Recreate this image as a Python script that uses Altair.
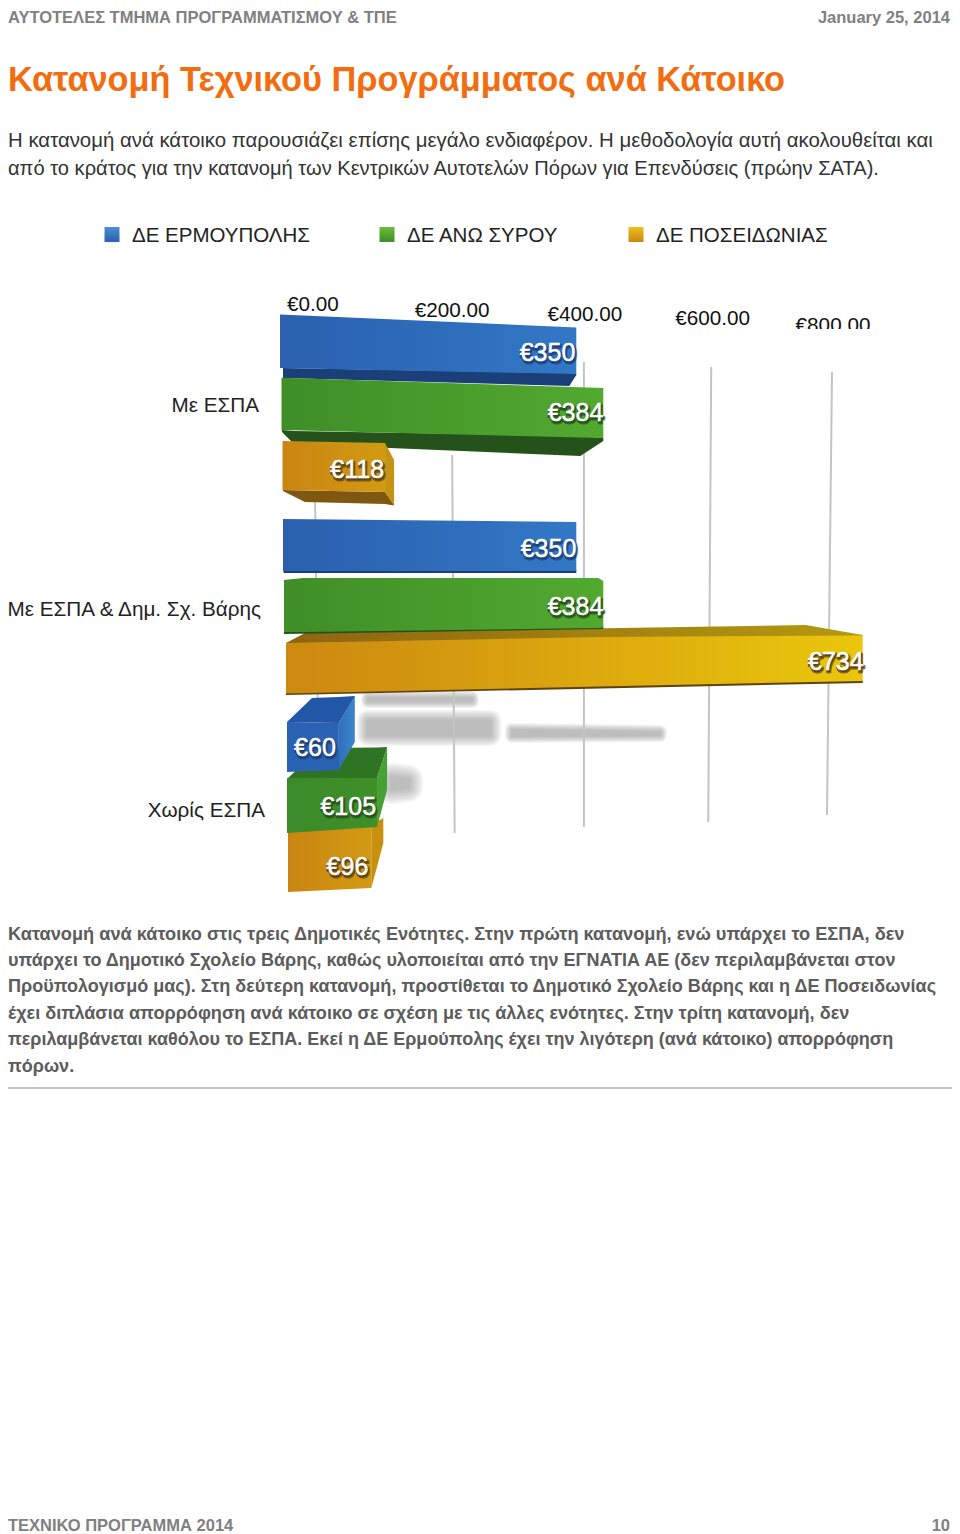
import altair as alt
import pandas as pd

# ---------- chart data ----------
SERIES = ["ΔΕ ΕΡΜΟΥΠΟΛΗΣ", "ΔΕ ΑΝΩ ΣΥΡΟΥ", "ΔΕ ΠΟΣΕΙΔΩΝΙΑΣ"]
ROW_LABELS = ["Με ΕΣΠΑ", "Με ΕΣΠΑ & Δημ. Σχ. Βάρης", "Χωρίς ΕΣΠΑ"]
VALUES_ESPA = [350, 384, 118]
VALUES_DHM = [350, 384, 734]
VALUES_NONE = [60, 105, 96]
TICKS = [0, 200, 400, 600, 800]
TICK_LABELS = ["€0.00", "€200.00", "€400.00", "€600.00", "€800.00"]

# ---------- page text ----------
HEADER_LEFT = "ΑΥΤΟΤΕΛΕΣ ΤΜΗΜΑ ΠΡΟΓΡΑΜΜΑΤΙΣΜΟΥ & ΤΠΕ"
HEADER_RIGHT = "January 25, 2014"
TITLE = "Κατανομή Τεχνικού Προγράμματος ανά Κάτοικο"
INTRO = [
    "Η κατανομή ανά κάτοικο παρουσιάζει επίσης μεγάλο ενδιαφέρον. Η μεθοδολογία αυτή ακολουθείται και",
    "από το κράτος για την κατανομή των Κεντρικών Αυτοτελών Πόρων για Επενδύσεις (πρώην ΣΑΤΑ).",
]
NOTES = [
    "Κατανομή ανά κάτοικο στις τρεις Δημοτικές Ενότητες. Στην πρώτη κατανομή, ενώ υπάρχει το ΕΣΠΑ, δεν",
    "υπάρχει το Δημοτικό Σχολείο Βάρης, καθώς υλοποιείται από την ΕΓΝΑΤΙΑ ΑΕ (δεν περιλαμβάνεται στον",
    "Προϋπολογισμό μας). Στη δεύτερη κατανομή, προστίθεται το Δημοτικό Σχολείο Βάρης και η ΔΕ Ποσειδωνίας",
    "έχει διπλάσια απορρόφηση ανά κάτοικο σε σχέση με τις άλλες ενότητες. Στην τρίτη κατανομή, δεν",
    "περιλαμβάνεται καθόλου το ΕΣΠΑ. Εκεί η ΔΕ Ερμούπολης έχει την λιγότερη (ανά κάτοικο) απορρόφηση",
    "πόρων.",
]
FOOTER_LEFT = "ΤΕΧΝΙΚΟ ΠΡΟΓΡΑΜΜΑ 2014"
FOOTER_RIGHT = "10"

FONT = "Liberation Sans"
W, H = 944, 1526
M = 8  # page margin: layout numbers below are page pixels, minus this margin


# ---------- scales: the perspective of the original is a power scale ----------
BAR_P, BAR_R = 0.913, [283 - M, 909 - M]
GRID_P, GRID_R = 0.94, [316 - M, 830 - M]
bar_scale = alt.Scale(type="pow", exponent=BAR_P, domain=[0, 800], range=BAR_R, nice=False)
grid_scale = alt.Scale(type="pow", exponent=GRID_P, domain=[0, 800], range=GRID_R, nice=False)


def shift(value, dx, p, r):
    """Data value that lands dx pixels beside `value` on a power scale."""
    k = (r[1] - r[0]) / 800 ** p
    pos = k * value ** p + dx
    return (abs(pos) / k) ** (1 / p) * (1 if pos >= 0 else -1)


def grad(c1, c2, vertical=False):
    return alt.LinearGradient(
        gradient="linear",
        stops=[alt.GradientStop(offset=0, color=c1), alt.GradientStop(offset=1, color=c2)],
        x1=0, y1=0, x2=0 if vertical else 1, y2=1 if vertical else 0,
    )


BLUE = ("#2a60ae", "#3278c6")
BLUE_D = "#1b4079"
GREEN = ("#3f8e28", "#52a92f")
GREEN_D = "#25511a"
ORANGE = ("#c98512", "#d29a12")
ORANGE_D = "#7f5710"
GOLD = ("#cc8810", "#eac60c")

PX = alt.X("x:Q", scale=None, axis=None)
PY = alt.Y("y:Q", scale=None, axis=None)


def face(value, fill, pts):
    rows = []
    for anchor, dx, y0, y1 in pts:
        base = 0 if anchor == "L" else value
        rows.append({"v": shift(base, dx, BAR_P, BAR_R), "y0": y0 - M, "y1": y1 - M})
    return (
        alt.Chart(pd.DataFrame(rows))
        .mark_area(fill=fill, orient="vertical", line=False, interpolate="linear")
        .encode(
            x=alt.X("v:Q", scale=bar_scale, axis=None),
            y=alt.Y("y0:Q", scale=None, axis=None),
            y2="y1:Q",
        )
    )


v = VALUES_ESPA
d = VALUES_DHM
n = VALUES_NONE
bars = [
    # Με ΕΣΠΑ
    face(v[0], BLUE_D, [("L", 0, 368, 378), ("R", -8, 373, 386), ("R", -1, 374, 375)]),
    face(v[0], grad(*BLUE), [("L", -3, 314.5, 368), ("R", -1, 327.5, 374)]),
    face(v[1], GREEN_D, [("L", -1, 430, 432), ("L", 11, 431, 444), ("R", -23, 436, 456), ("R", 0, 438, 441)]),
    face(v[1], grad(*GREEN), [("L", -1.5, 377.7, 430), ("R", 0, 388, 438)]),
    face(v[2], ORANGE_D, [("L", 0, 490, 491), ("L", 22, 490.5, 502), ("R", -7, 492, 504), ("R", 2, 505, 505.5)]),
    face(v[2], "#c49214", [("R", -7, 443, 492), ("R", 2, 460, 505)]),
    face(v[2], grad(*ORANGE), [("L", -0.5, 441, 490), ("R", -7, 443, 492)]),
    # Με ΕΣΠΑ & Δημ. Σχ. Βάρης
    face(d[0], BLUE_D, [("L", 0.5, 570, 573), ("R", -1, 570, 573)]),
    face(d[0], grad(*BLUE), [("L", 0, 519, 571), ("R", -1, 522, 571)]),
    face(d[2], grad("#8f6410", "#b39a10"), [("L", 3, 643, 644), ("L", 22, 633, 643), ("R", -56, 625, 637), ("R", 1, 635, 636)]),
    face(d[2], "#5f4210", [("L", 3, 692, 695), ("R", 1, 680, 683)]),
    face(d[2], grad(*GOLD), [("L", 3, 643, 693.5), ("R", -263, 637, 686.5), ("R", 1, 635.5, 681)]),
    face(d[1], GREEN_D, [("L", 1, 631, 634), ("R", 0, 626, 629)]),
    face(d[1], grad(*GREEN), [("L", 1, 580, 632), ("L", 20, 578, 632), ("R", -5, 578, 628), ("R", 0, 581, 627.5)]),
    # Χωρίς ΕΣΠΑ
    face(n[2], grad(*ORANGE), [("L", 5, 825, 892), ("R", -2, 825, 888)]),
    face(n[2], "#c9900e", [("R", -2, 825, 888), ("R", 10, 818, 843)]),
    face(n[1], "#2e7423", [("L", 5, 778, 778.5), ("L", 37, 748, 779), ("R", -4, 747.5, 778), ("R", 6, 747, 747.5)]),
    face(n[1], "#46a035", [("R", -4, 778, 827), ("R", 6, 747, 790)]),
    face(n[1], grad("#3a8a2a", "#3f9028"), [("L", 4, 778, 833), ("R", -4, 778, 827)]),
    face(n[0], "#2257a8", [("L", 4, 722, 722.5), ("L", 29, 698, 722.5), ("R", -3, 697, 723), ("R", 13, 696, 696.5)]),
    face(n[0], grad("#2f6fb8", "#3c85cf"), [("R", -3, 723, 770), ("R", 13, 696, 742)]),
    face(n[0], "#2a63b4", [("L", 4, 722, 772), ("R", -3, 723, 770)]),
]

# ---------- value labels on the bars ----------
label_rows = []
for vals, ys, dxs, darks in [
    (VALUES_ESPA, [353, 413, 470], [-2, 0, -8], [BLUE_D, GREEN_D, "#5f4210"]),
    (VALUES_DHM, [549, 607, 662], [-1, 0, 2], [BLUE_D, GREEN_D, "#5f4210"]),
    (VALUES_NONE, [748, 807, 867], [-6, -5, -5], [BLUE_D, GREEN_D, "#5f4210"]),
]:
    for val, y, dx, dark in zip(vals, ys, dxs, darks):
        label_rows.append({"v": shift(val, dx, BAR_P, BAR_R), "y": y - M, "t": f"€{val}", "dark": dark})
labels_df = pd.DataFrame(label_rows)
enc = dict(x=alt.X("v:Q", scale=bar_scale, axis=None), y=PY, text="t:N")
label_shadow = (
    alt.Chart(labels_df)
    .mark_text(font=FONT, fontSize=25, align="right", baseline="middle", dx=1, dy=1.5,
               strokeWidth=3, strokeOpacity=0.75, strokeJoin="round")
    .encode(stroke=alt.Stroke("dark:N", scale=None), fill=alt.Fill("dark:N", scale=None), **enc)
)
label_top = (
    alt.Chart(labels_df)
    .mark_text(font=FONT, fontSize=25, align="right", baseline="middle", fill="white",
               stroke="white", strokeWidth=0.5)
    .encode(**enc)
)

# ---------- leaning grid lines and perspective tick labels ----------
GRID_EXT = [(-1, 495, 2, 722), (-3.5, 455, -1, 833), (0, 362, 0, 827), (3, 367, 0, 822), (2, 372, -3, 815)]
grid_rows = []
for tick, (dx0, y0, dx1, y1) in zip(TICKS, GRID_EXT):
    grid_rows.append({"tick": tick, "v": shift(tick, dx0, GRID_P, GRID_R), "y": y0 - M, "o": 0})
    grid_rows.append({"tick": tick, "v": shift(tick, dx1, GRID_P, GRID_R), "y": y1 - M, "o": 1})
grid = (
    alt.Chart(pd.DataFrame(grid_rows))
    .mark_line(color="#c4c4c4", strokeWidth=2)
    .encode(x=alt.X("v:Q", scale=grid_scale, axis=None), y=PY, detail="tick:N", order="o:Q")
)
tick_rows = []
for tick, lab, dx, y in zip(TICKS, TICK_LABELS, [-3, -3.5, 1, 4.5, 3], [305, 311, 315, 319, 325.5]):
    tick_rows.append({"v": shift(tick, dx, GRID_P, GRID_R), "y": y - M, "t": lab})
tick_text = (
    alt.Chart(pd.DataFrame(tick_rows))
    .mark_text(font=FONT, fontSize=20.7, align="center", baseline="middle", fill="#111111")
    .encode(x=alt.X("v:Q", scale=grid_scale, axis=None), y=PY, text="t:N")
)
# the last tick label of the original is cut off at its foot
tick_cut = (
    alt.Chart(pd.DataFrame([{"x": 785 - M, "x2": 880 - M, "y": 329 - M, "y2": 340 - M}]))
    .mark_rect(fill="white")
    .encode(x=PX, x2="x2:Q", y=PY, y2="y2:Q")
)

# ---------- soft drop shadows below the long bars ----------
SHADOWS = [
    ([368, 472], [698, 698], [701, 701], 14),
    ([368, 490], [721, 721], [735, 735], 22),
    ([512, 660], [730, 732], [736, 735], 14),
    ([392, 408], [778, 780], [789, 787], 30),
]
shadow_layers = []
for xs, tops, bots, blur in SHADOWS:
    df = pd.DataFrame({"x": [x - M for x in xs], "y": [y - M for y in tops], "y2": [y - M for y in bots]})
    for f in [1.0, 0.875, 0.75, 0.625, 0.5, 0.375, 0.25, 0.125]:
        shadow_layers.append(
            alt.Chart(df)
            .mark_area(fill="#777777", stroke="#777777", strokeWidth=blur * f, opacity=0.07,
                       orient="vertical", strokeJoin="round", line=False)
            .encode(x=PX, y=PY, y2="y2:Q")
        )


# ---------- page text ----------
def text_layer(rows, **mark):
    return (
        alt.Chart(pd.DataFrame(rows, columns=["x", "y", "t"]).assign(
            x=lambda t: t.x - M, y=lambda t: t.y - M))
        .mark_text(font=FONT, baseline="middle", **mark)
        .encode(x=PX, y=PY, text="t:N")
    )


GRAY = "#808080"
NOTE_Y = [935, 961, 987, 1014, 1040, 1067]
NOTE_SIZE = [18.2, 18.02, 18.04, 18.1, 18.0, 18.0]
INTRO_Y = [141, 169]
INTRO_SIZE = [20.4, 20.08]
page = [
    text_layer([(8, 18, HEADER_LEFT), (8, 1526, FOOTER_LEFT)], fontSize=16.5, fontWeight="bold", fill=GRAY, align="left"),
    text_layer([(950, 18, HEADER_RIGHT), (950, 1526, FOOTER_RIGHT)], fontSize=16.5, fontWeight="bold", fill=GRAY, align="right"),
    text_layer([(8, 80.5, TITLE)], fontSize=34.3, fontWeight="bold", fill="#f26d0f", align="left"),
    *[text_layer([(8, y, s)], fontSize=z, fill="#333333", align="left") for y, s, z in zip(INTRO_Y, INTRO, INTRO_SIZE)],
    *[text_layer([(8, y, s)], fontSize=z, fontWeight="bold", fill="#5c5c5c", align="left") for y, s, z in zip(NOTE_Y, NOTES, NOTE_SIZE)],
    text_layer(list(zip([132, 407, 656], [236] * 3, SERIES)), fontSize=20.5, fill="#222222", align="left"),
    text_layer(list(zip([259, 261, 265], [406, 610, 811], ROW_LABELS)), fontSize=20.7, fill="#222222", align="right"),
]

# ---------- legend swatches ----------
swatches = []
for sx, (c1, c2) in zip([112, 387, 636], [("#4a8fd8", "#2a60ae"), ("#6bbb3a", "#3f8e28"), ("#eec21a", "#c98512")]):
    swatches.append(
        alt.Chart(pd.DataFrame({"x": [sx - M], "y": [234.5 - M]}))
        .mark_square(size=225, fill=grad(c1, c2, vertical=True), opacity=1)
        .encode(x=PX, y=PY)
    )

rule = (
    alt.Chart(pd.DataFrame({"x": [8 - M, 952 - M], "y": [1088 - M, 1088 - M]}))
    .mark_line(color="#b0b0b0", strokeWidth=1.5)
    .encode(x=PX, y=PY)
)

background = alt.layer(*shadow_layers, grid, tick_text, tick_cut)
foreground = alt.layer(*bars, label_shadow, label_top)
chart = (
    alt.layer(background, foreground, *page, *swatches, rule)
    .resolve_scale(x="independent")
    .properties(width=W, height=H, padding=0, autosize="none", background="white")
    .configure_view(stroke=None)
)

chart.save("out.html", embed_options={"renderer": "svg", "actions": False})
